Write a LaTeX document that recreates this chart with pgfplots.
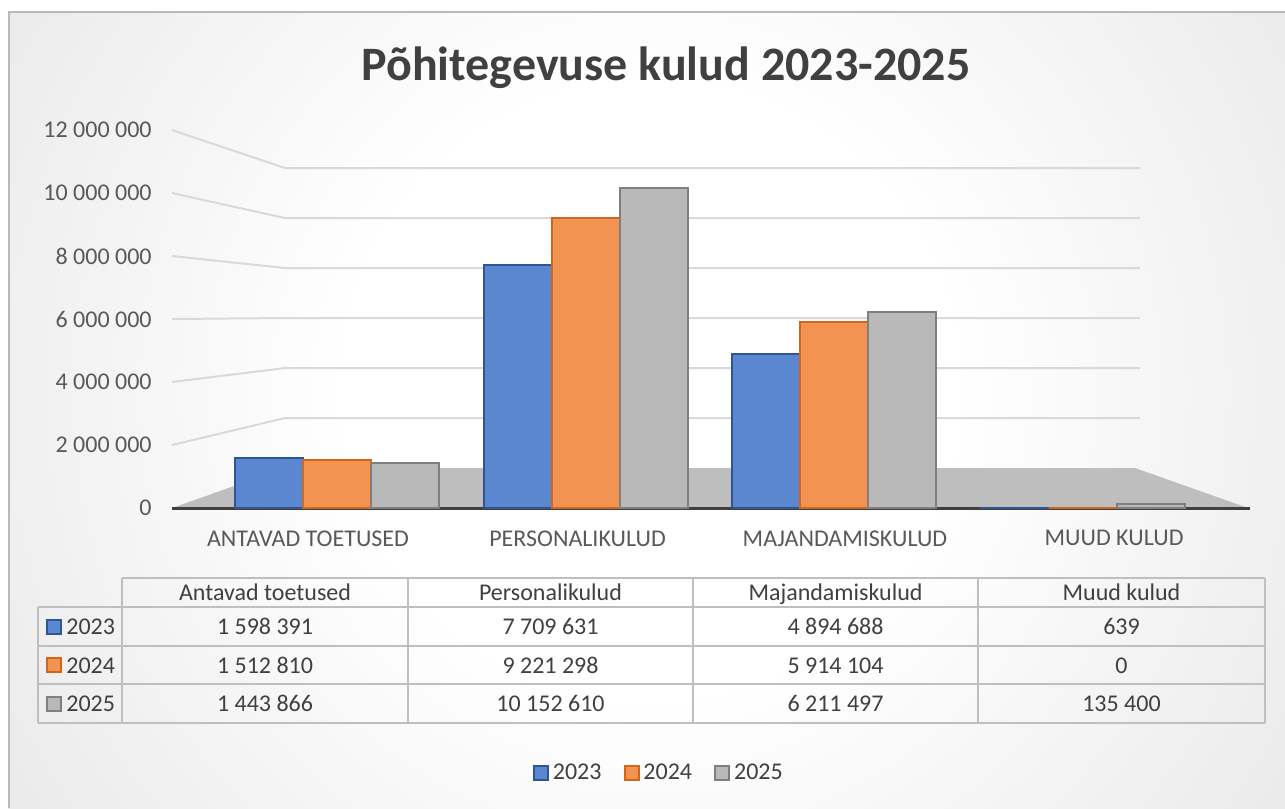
\documentclass[border=0pt]{standalone}
\usepackage{fontspec}
\setmainfont{Carlito}
\usepackage{pgfplots}
\pgfplotsset{compat=1.18}
\definecolor{bluef}{HTML}{5A87D0}
\definecolor{bluee}{HTML}{2F5597}
\definecolor{orangef}{HTML}{F29352}
\definecolor{orangee}{HTML}{D0661C}
\definecolor{grayf}{HTML}{B9B9B9}
\definecolor{graye}{HTML}{7F7F7F}
\definecolor{txt}{HTML}{595959}
\definecolor{ttl}{HTML}{404040}
\definecolor{gridc}{HTML}{D9D9D9}
\definecolor{floorc}{HTML}{BEBEBE}
\definecolor{tline}{HTML}{BFBFBF}
\definecolor{bgout}{HTML}{C8C8C8}
\pgfdeclareradialshading{bgshade}{\pgfpoint{0bp}{0bp}}{color(0bp)=(white); color(5bp)=(white); color(25bp)=(bgout); color(50bp)=(bgout)}
\newcommand\tf{\fontsize{12bp}{14bp}\selectfont}
\begin{document}
\begin{tikzpicture}
\begin{scope}[x=0.5bp,y=-0.5bp]
\useasboundingbox (0,0) rectangle (1285,808);
\fill[white] (0,0) rectangle (1285,808);
\begin{scope}
\clip (8,11) rectangle (1285,808);
\shade[shading=bgshade] (650,390) circle (760bp);
\end{scope}
\draw[gray!55, line width=1bp] (8.5,808) -- (8.5,11.5) -- (1285,11.5);
\node[font=\fontsize{24bp}{28bp}\selectfont\bfseries, text=ttl, anchor=base, inner sep=0pt] at (666,80) {Põhitegevuse kulud 2023-2025};
% table grid
\draw[tline, line width=1bp] (122,578) -- (1265,578);
\foreach \y in {607,646,684,723} \draw[tline, line width=1bp] (38,\y) -- (1265,\y);
\draw[tline, line width=1bp] (38,607) -- (38,723);
\foreach \x in {122,408,693,978,1265} \draw[tline, line width=1bp] (\x,578) -- (\x,723);
\tikzset{tt/.style={font=\tf, text=ttl, anchor=base, inner sep=0pt}}
\foreach \x/\t in {265/Antavad toetused, 550.5/Personalikulud, 835.5/Majandamiskulud, 1121.5/Muud kulud}
  \node[tt] at (\x,600.5) {\t};
\foreach \x/\t in {265/1 598 391, 550.5/7 709 631, 835.5/4 894 688, 1121.5/639}
  \node[tt] at (\x,634.5) {\t};
\foreach \x/\t in {265/1 512 810, 550.5/9 221 298, 835.5/5 914 104, 1121.5/0}
  \node[tt] at (\x,673) {\t};
\foreach \x/\t in {265/1 443 866, 550.5/10 152 610, 835.5/6 211 497, 1121.5/135 400}
  \node[tt] at (\x,711.5) {\t};
\filldraw[fill=bluef, draw=bluee, line width=1bp] (47,619.5) rectangle (61,633.5);
\filldraw[fill=orangef, draw=orangee, line width=1bp] (47,658) rectangle (61,672);
\filldraw[fill=grayf, draw=graye, line width=1bp] (47,696.5) rectangle (61,710.5);
\node[tt, anchor=base west] at (66,634.5) {2023};
\node[tt, anchor=base west] at (66,673) {2024};
\node[tt, anchor=base west] at (66,711.5) {2025};
\end{scope}
\begin{axis}[
  at={(86bp,-254bp)}, anchor=south west,
  scale only axis, width=539bp, height=189bp,
  xmin=-0.664, xmax=3.674, ymin=0, ymax=12000000,
  clip=false,
  axis line style={draw=none},
  tick style={draw=none},
  scaled y ticks=false,
  ytick={0,2000000,4000000,6000000,8000000,10000000,12000000},
  yticklabels={0,2 000 000,4 000 000,6 000 000,8 000 000,10 000 000,12 000 000},
  xtick={-0.1167,0.9678,2.044,3.127},
  xticklabels={ANTAVAD TOETUSED,PERSONALIKULUD,MAJANDAMISKULUD,MUUD KULUD},
  ticklabel style={font=\tf, text=txt},
  yticklabel style={inner sep=0pt, anchor=east, xshift=-10bp},
  xticklabel style={inner sep=0pt, anchor=north, yshift=-11bp},
  legend style={at={(0.4525,-0.701)}, anchor=center, draw=none, fill=none,
    font=\tf, text=ttl, legend columns=3,
    /tikz/every even column/.append style={column sep=9bp}},
  mybar/.style={ybar, bar width=0.2736, line width=1bp,
    legend image code/.code={\draw[##1, line width=1bp] (0bp,-3.5bp) rectangle (7bp,3.5bp);}},
]
% perspective grid lines
\draw[gridc, line width=1bp] (axis cs:-0.664,2000000) -- (axis cs:-0.2093,2857000) -- (axis cs:3.231,2857000);
\draw[gridc, line width=1bp] (axis cs:-0.664,4000000) -- (axis cs:-0.2093,4444000) -- (axis cs:3.231,4444000);
\draw[gridc, line width=1bp] (axis cs:-0.664,6000000) -- (axis cs:-0.2093,6032000) -- (axis cs:3.231,6032000);
\draw[gridc, line width=1bp] (axis cs:-0.664,8000000) -- (axis cs:-0.2093,7619000) -- (axis cs:3.231,7619000);
\draw[gridc, line width=1bp] (axis cs:-0.664,10000000) -- (axis cs:-0.2093,9206000) -- (axis cs:3.231,9206000);
\draw[gridc, line width=1bp] (axis cs:-0.664,12000000) -- (axis cs:-0.2093,10794000) -- (axis cs:3.231,10794000);
% floor
\fill[floorc] (axis cs:-0.664,0) -- (axis cs:-0.2093,1270000) -- (axis cs:3.211,1270000) -- (axis cs:3.666,0) -- cycle;
\draw[ttl, line width=1.5bp] (axis cs:-0.664,0) -- (axis cs:3.674,0);
\addplot[mybar, bar shift=-0.2736, fill=bluef, draw=bluee] coordinates {(0,1598391) (1,7709631) (2,4894688) (3,639)};
\addplot[mybar, bar shift=0, fill=orangef, draw=orangee] coordinates {(0,1512810) (1,9221298) (2,5914104) (3,0)};
\addplot[mybar, bar shift=0.2736, fill=grayf, draw=graye] coordinates {(0,1443866) (1,10152610) (2,6211497) (3,135400)};
\legend{2023,2024,2025}
\end{axis}
\end{tikzpicture}
\end{document}
